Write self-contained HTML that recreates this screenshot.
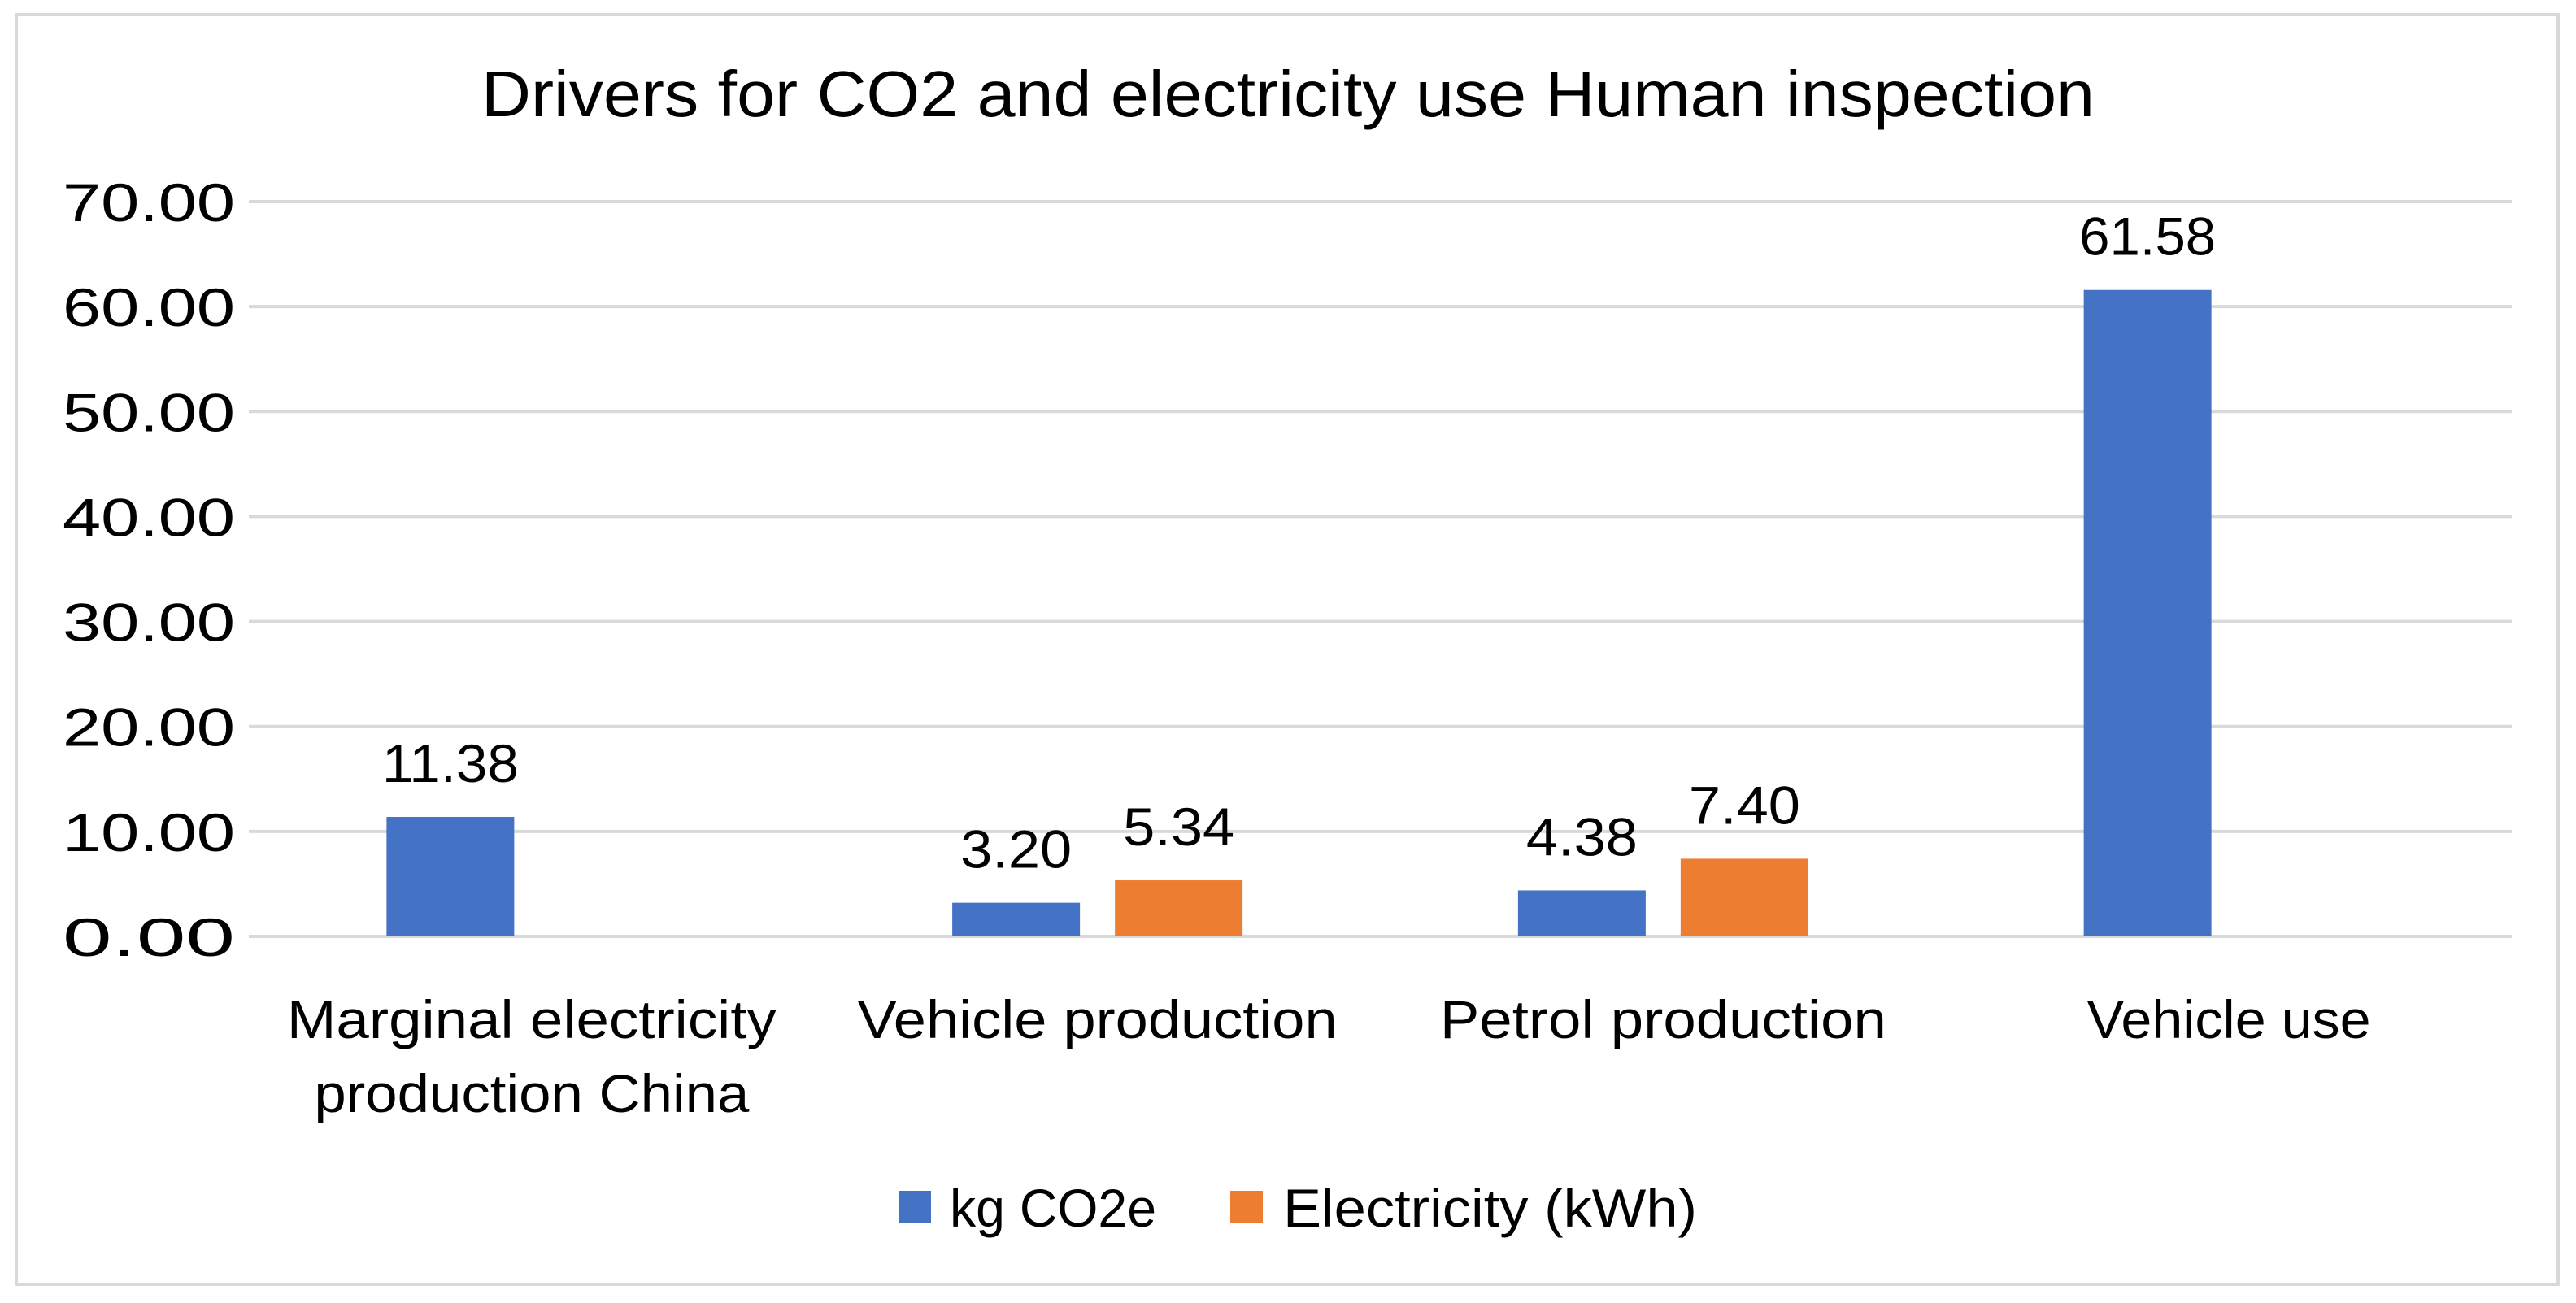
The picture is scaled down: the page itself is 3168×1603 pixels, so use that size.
<!DOCTYPE html>
<html><head><meta charset="utf-8"><style>
html,body{margin:0;padding:0;background:#fff;}
svg{display:block;font-family:"Liberation Sans",sans-serif;}
</style></head><body>
<svg id="chart" width="3168" height="1603" viewBox="0 0 3168 1603" xmlns="http://www.w3.org/2000/svg">
<rect x="20" y="18" width="3126" height="1562" fill="#fff" stroke="#d9d9d9" stroke-width="4"/>
<text x="1584" y="143" font-size="80" text-anchor="middle" textLength="1984" lengthAdjust="spacingAndGlyphs" fill="#000">Drivers for CO2 and electricity use Human inspection</text>
<g id="grid"></g>
<g id="yaxis"></g>
<g id="bars"></g>
<g id="xaxis"></g>
<g>
<g>
<rect x="1105" y="1465" width="40" height="40" fill="#4472c4"/>
<text x="1168" y="1509" font-size="66" textLength="254" lengthAdjust="spacingAndGlyphs">kg CO2e</text></g>
<g>
<rect x="1513" y="1465" width="40" height="40" fill="#ed7d31"/>
<text x="1578" y="1509" font-size="66" textLength="509" lengthAdjust="spacingAndGlyphs">Electricity (kWh)</text></g>
</g>
</svg>
<script>
const categories = [["Marginal electricity","production China"],["Vehicle production"],["Petrol production"],["Vehicle use"]];
const co2Values = [11.38, 3.20, 4.38, 61.58];
const elecValues = [null, 5.34, 7.40, null];
const yTicks = [0,10,20,30,40,50,60,70];
const yTickLabels = ["0.00","10.00","20.00","30.00","40.00","50.00","60.00","70.00"];

const NS="http://www.w3.org/2000/svg";
const plotL=306, plotR=3089, y0=1152, yTop=248, yMax=70;
const bandW=(plotR-plotL)/categories.length, barW=157, off=100;
function yScale(v){return y0-(v/yMax)*(y0-yTop);}
function xCenter(i){return plotL+bandW*(i+0.5);}
function mk(tag,attrs,parent,txt){const e=document.createElementNS(NS,tag);for(const k in attrs)e.setAttribute(k,attrs[k]);if(txt!=null)e.textContent=txt;parent.appendChild(e);return e;}
const grid=document.getElementById('grid'),ya=document.getElementById('yaxis'),bars=document.getElementById('bars'),xa=document.getElementById('xaxis');
yTicks.forEach((t,i)=>{
  const y=yScale(t);
  const l=mk('line',{x1:plotL,x2:plotR,y1:y,y2:y,stroke:'#d9d9d9','stroke-width':4},grid);
  
  
  const tx=mk('text',{x:289,y:y+24,'font-size':66,'text-anchor':'end',textLength:212,lengthAdjust:'spacingAndGlyphs'},ya,yTickLabels[i]);
  
  
});
function drawBar(v,i,dx,color,name){
  if(v==null)return;
  const cx=xCenter(i)+dx, top=yScale(v);
  const r=mk('rect',{x:cx-barW/2,y:top,width:barW,height:y0-top,fill:color},bars);
  
  
  const s=v.toFixed(2);
  const t=mk('text',{x:cx,y:top-43,'font-size':66,'text-anchor':'middle',textLength:s.length>4?168:137,lengthAdjust:'spacingAndGlyphs'},bars,s);
  
  
}
co2Values.forEach((v,i)=>drawBar(v,i,-off,'#4472c4','bar-kg-co2e'));
elecValues.forEach((v,i)=>drawBar(v,i,off,'#ed7d31','bar-electricity'));
const catW=[[602,535],[590],[549],[349]];
categories.forEach((lines,i)=>{
  lines.forEach((ln,j)=>{
    const t=mk('text',{x:xCenter(i),y:1277+j*91,'font-size':66,'text-anchor':'middle',textLength:catW[i][j],lengthAdjust:'spacingAndGlyphs'},xa,ln);
    
    
  });
});
</script>
</body></html>
